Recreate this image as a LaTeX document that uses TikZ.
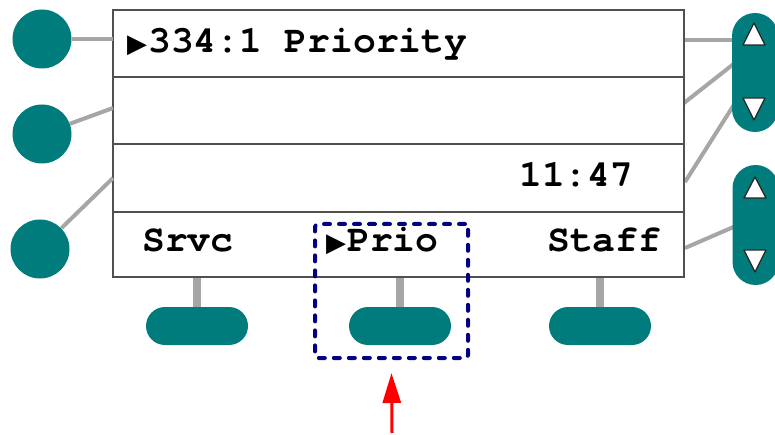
\documentclass[tikz,border=0pt]{standalone}
\usepackage{fontspec}
\newfontfamily\lcd[Ligatures=NoCommon]{TeX Gyre Cursor}
\newfontfamily\symf{DejaVu Sans}
\usetikzlibrary{arrows.meta,calc}
\definecolor{tealbtn}{RGB}{0,124,124}
\definecolor{lead}{RGB}{166,166,166}
\definecolor{framec}{RGB}{80,80,80}
\definecolor{navysel}{RGB}{0,0,128}
\newcommand{\selmark}{\makebox[21pt][l]{\symf\fontsize{26}{26}\selectfont ▶}}
\begin{document}
\begin{tikzpicture}[x=1pt,y=-1pt,
  row/.style={draw=framec,line width=2pt,fill=white,minimum width=571pt,inner sep=0pt,outer sep=0pt,anchor=north west},
  knob/.style={circle,fill=tealbtn,minimum size=59pt,inner sep=0pt},
  vpill/.style={rectangle,rounded corners=23pt,fill=tealbtn,minimum width=46pt,inner sep=0pt},
  hpill/.style={rectangle,rounded corners=19pt,fill=tealbtn,minimum width=102pt,minimum height=38pt,inner sep=0pt},
  leadline/.style={draw=lead,line width=4pt},
  stemline/.style={draw=lead,line width=8pt},
  lcdtext/.style={anchor=base west,inner sep=0pt,font=\lcd\bfseries\fontsize{38}{38}\selectfont},
  tri/.style={fill=white,draw=black!85,line width=1.3pt,line join=round},
  selbox/.style={draw=navysel,line width=4pt,dash pattern=on 6pt off 9pt,line cap=round,rounded corners=3pt,minimum width=153pt,minimum height=134pt,inner sep=0pt},
  pointer/.style={draw=red,line width=3pt,-{Triangle[length=30pt,width=18pt]}}
]
\useasboundingbox (0,0) rectangle (775,435);

% right-side leads (drawn first, pills cover their ends)
\coordinate (rA1) at (684,40);  \coordinate (eA1) at (745,40);
\coordinate (rA2) at (684,103); \coordinate (eA2) at (745,55);
\coordinate (rA3) at (685,182); \coordinate (eA3) at (742,92);
\coordinate (rB1) at (685,248); \coordinate (eB1) at (745,222);
\draw[leadline] (rA1) -- (eA1);
\draw[leadline] (rA2) -- (eA2);
\draw[leadline] (rA3) -- (eA3);
\draw[leadline] (rB1) -- (eB1);

% display rows
\node[row,minimum height=67pt] (row1) at (113,10) {};
\node[row,minimum height=67pt] (row2) at (113,77) {};
\node[row,minimum height=68pt] (row3) at (113,144) {};
\node[row,minimum height=65pt] (row4) at (113,212) {};

% texts
\node[lcdtext] (t1) at (127,53) {\selmark 334:1 Priority};
\node[lcdtext] (t2) at (519,187) {11:47};
\node[lcdtext] (t3) at (142,252) {Srvc};
\node[lcdtext] (t4) at (326,252) {\selmark Prio};
\node[lcdtext] (t5) at (547,252) {Staff};

% left knobs
\node[knob] (k1) at (42,39) {};
\node[knob] (k2) at (42,134) {};
\node[knob] (k3) at (40,249) {};
\coordinate (l1) at (113,39);
\coordinate (l2) at (113,108);
\coordinate (l3) at (113,178);
\draw[leadline] (k1) -- (l1);
\draw[leadline] (k2) -- (l2);
\draw[leadline] (k3) -- (l3);

% right scroll pills
\node[vpill,minimum height=119pt] (pA) at (755,72.5) {};
\node[vpill,minimum height=120pt] (pB) at (755.5,225) {};
\draw[tri] (743,45) -- (765,45) -- (754,23) -- cycle;
\draw[tri] (743,98) -- (765,98) -- (754,120) -- cycle;
\draw[tri] (744,198) -- (766,198) -- (755,177) -- cycle;
\draw[tri] (744,250) -- (766,250) -- (755,272) -- cycle;

% bottom soft keys
\node[hpill] (b1) at (197,326) {};
\node[hpill] (b2) at (400,326) {};
\node[hpill] (b3) at (600,326) {};
\coordinate (s1) at (197,278);
\coordinate (s2) at (400,278);
\coordinate (s3) at (600,278);
\draw[stemline] (s1) -- (b1);
\draw[stemline] (s2) -- (b2);
\draw[stemline] (s3) -- (b3);

% selection box and pointer
\node[selbox] (sel) at (391.5,291) {};
\coordinate (ptail) at (392,433);
\draw[pointer] (ptail) -- ([yshift=-13pt]sel.south);
\end{tikzpicture}
\end{document}
